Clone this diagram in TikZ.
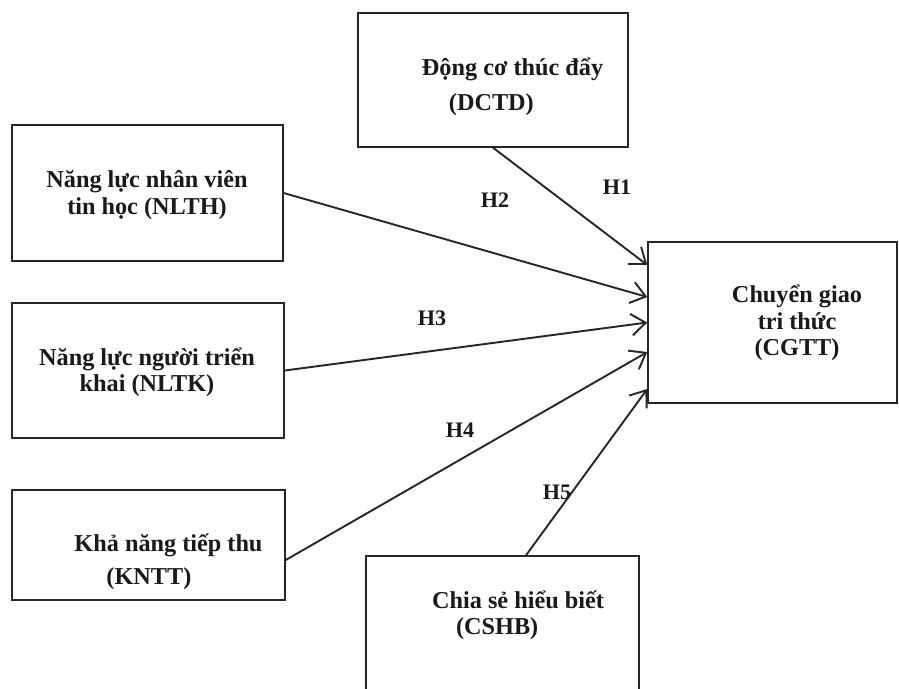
\documentclass[tikz,border=0pt]{standalone}
\usepackage{fontspec}
\setmainfont{Liberation Serif}
\usetikzlibrary{arrows.meta}
\tikzset{
  box/.style={draw=black!85, line width=0.7pt, inner sep=0pt},
  txt/.style={font=\bfseries\fontsize{11.5}{12.5}\selectfont, text=black!90, inner sep=0pt},
  hyp/.style={font=\bfseries\fontsize{10.5}{12}\selectfont, text=black!90, inner sep=0pt},
}
\begin{document}
\begin{tikzpicture}[>={Straight Barb[length=2.4mm,width=3.6mm]}]
  \useasboundingbox (0,0) rectangle (14.983,-11.483);
  \clip (0,0) rectangle (14.983,-11.483);

  % boxes
  \node[box, minimum width=4.5cm, minimum height=2.233cm] (dctd) at (8.217,-1.333) {};
  \node[box, minimum width=4.517cm, minimum height=2.267cm] (nlth) at (2.458,-3.217) {};
  \node[box, minimum width=4.533cm, minimum height=2.25cm] (nltk) at (2.467,-6.175) {};
  \node[box, minimum width=4.55cm, minimum height=1.833cm] (kntt) at (2.475,-9.083) {};
  \node[box, minimum width=4.55cm, minimum height=2.733cm] (cshb) at (8.375,-10.633) {};
  \node[box, minimum width=4.15cm, minimum height=2.683cm] (cgtt) at (12.875,-5.375) {};

  \node[txt, align=left] (dctd-txt) at (8.542,-1.45) {Động cơ thúc đẩy\\[4pt]\hspace*{0.45cm}(DCTD)};
  \node[txt, align=center] (nlth-txt) at (2.45,-3.25) {Năng lực nhân viên\\tin học (NLTH)};
  \node[txt, align=center] (nltk-txt) at (2.45,-6.2) {Năng lực người triển\\khai (NLTK)};
  \node[txt, align=left] (kntt-txt) at (2.808,-9.367) {Khả năng tiếp thu\\[3pt]\hspace*{0.533cm}(KNTT)};
  \node[txt, align=left] (cshb-txt) at (8.633,-10.25) {Chia sẻ hiểu biết\\\hspace*{0.4cm}(CSHB)};
  \node[txt, align=center] (cgtt-txt) at (13.283,-5.383) {Chuyển giao\\tri thức\\(CGTT)};

  % hypotheses
  \draw[->, line width=0.9pt, black!85] (dctd.south) -- ([yshift=0.958cm]cgtt.west);
  \draw[->, line width=0.9pt, black!85] (nlth.east) -- ([yshift=0.425cm]cgtt.west);
  \draw[->, line width=0.9pt, black!85] (nltk.east) -- (cgtt.west);
  \draw[->, line width=0.9pt, black!85] ([yshift=-0.25cm]kntt.east) -- ([yshift=-0.492cm]cgtt.west);
  \draw[->, line width=0.9pt, black!85] ([xshift=0.392cm]cshb.north) -- ([yshift=-1.108cm]cgtt.west);

  \node[hyp] (h1) at (10.283,-3.117) {H1};
  \node[hyp] (h2) at (8.25,-3.333) {H2};
  \node[hyp] (h3) at (7.2,-5.3) {H3};
  \node[hyp] (h4) at (7.667,-7.167) {H4};
  \node[hyp] (h5) at (9.283,-8.2) {H5};
\end{tikzpicture}
\end{document}
